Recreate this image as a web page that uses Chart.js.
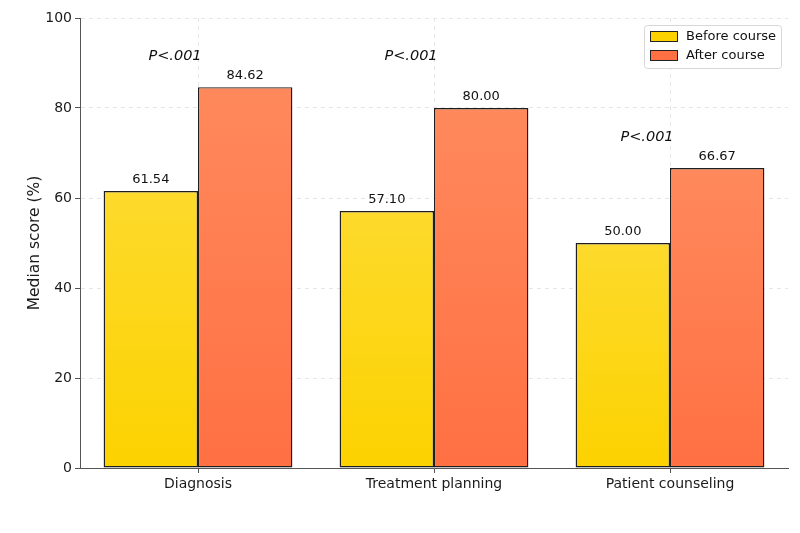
<!DOCTYPE html>
<html>
<head>
<meta charset="utf-8">
<script src="https://cdn.jsdelivr.net/npm/chart.js@4"></script>
<style>
  html, body { margin: 0; padding: 0; background: #fff; }
  #wrap { width: 800px; height: 533px; }
</style>
</head>
<body>
<div id="wrap"><canvas id="scoreChart" width="800" height="533"></canvas></div>
<script>
// categories and values
const categories = ['Diagnosis', 'Treatment planning', 'Patient counseling'];
const beforeCourse = [61.54, 57.10, 50.00];
const afterCourse = [84.62, 80.00, 66.67];
const pLabels = ['P<.001', 'P<.001', 'P<.001'];
const pLabelY = [91.6, 91.6, 73.6];
const yTicks = [0, 20, 40, 60, 80, 100];

const FONT = 'DejaVu Sans';

// per-bar vertical gradient
function barGradient(top, bottom) {
    return function (context) {
        const chart = context.chart;
        const y = chart.scales.y;
        if (!y || !chart.chartArea || typeof context.raw !== 'number') return bottom;
        const yTop = y.getPixelForValue(context.raw);
        const yBase = y.getPixelForValue(0);
        if (!isFinite(yTop) || !isFinite(yBase) || yTop === yBase) return bottom;
        const g = chart.ctx.createLinearGradient(0, yTop, 0, yBase);
        g.addColorStop(0, top);
        g.addColorStop(1, bottom);
        return g;
    };
}

// value labels, P labels and legend
const annotations = {
    id: 'annotations',
    afterDatasetsDraw(chart) {
        const ctx = chart.ctx;
        const y = chart.scales.y;
        const x = chart.scales.x;
        ctx.save();
        ctx.fillStyle = '#111';
        ctx.font = '13px "' + FONT + '"';
        ctx.textAlign = 'center';
        ctx.textBaseline = 'bottom';
        chart.data.datasets.forEach((ds, i) => {
            const meta = chart.getDatasetMeta(i);
            meta.data.forEach((bar, j) => {
                ctx.fillText(ds.data[j].toFixed(2), bar.x, bar.y - 5);
            });
        });
        // P values
        ctx.font = 'italic 14.5px "' + FONT + '"';
        ctx.textBaseline = 'middle';
        pLabels.forEach((t, j) => {
            ctx.fillText(t, x.getPixelForValue(j) - 23, y.getPixelForValue(pLabelY[j]));
        });
        // legend box
        const lx = 644, ly = 25, lw = 137, lh = 43;
        ctx.fillStyle = 'rgba(255,255,255,0.85)';
        ctx.strokeStyle = '#d6d6d6';
        ctx.lineWidth = 1;
        ctx.beginPath();
        ctx.roundRect(lx + 0.5, ly + 0.5, lw, lh, 3);
        ctx.fill();
        ctx.stroke();
        const items = [['Before course', '#FCD200'], ['After course', '#FF7043']];
        ctx.font = '13px "' + FONT + '"';
        ctx.textAlign = 'left';
        items.forEach((it, k) => {
            const iy = ly + 6 + k * 19;
            ctx.fillStyle = it[1];
            ctx.fillRect(lx + 6, iy, 27, 10);
            ctx.strokeStyle = '#222';
            ctx.strokeRect(lx + 6.5, iy + 0.5, 27, 10);
            ctx.fillStyle = '#111';
            ctx.fillText(it[0], lx + 42, iy + 6);
        });
        ctx.restore();
    }
};

const ctx = document.getElementById('scoreChart').getContext('2d');
new Chart(ctx, {
    type: 'bar',
    data: {
        labels: categories,
        datasets: [{
            label: 'Before course',
            data: beforeCourse,
            backgroundColor: barGradient('#FDDA2C', '#FCD200'),
            borderColor: '#1e1e1e',
            borderWidth: 1.4,
            borderSkipped: false,
            categoryPercentage: 0.8,
            barPercentage: 1.0
        }, {
            label: 'After course',
            data: afterCourse,
            backgroundColor: barGradient('#FF895C', '#FF7043'),
            borderColor: '#1e1e1e',
            borderWidth: 1.4,
            borderSkipped: false,
            categoryPercentage: 0.8,
            barPercentage: 1.0
        }]
    },
    options: {
        responsive: false,
        animation: false,
        layout: { padding: { left: 0, right: 12, top: 18, bottom: 0 } },
        plugins: {
            legend: { display: false },
            tooltip: { enabled: false }
        },
        scales: {
            x: {
                grid: {
                    offset: false,
                    color: '#e6e6e6',
                    tickColor: '#555',
                    tickLength: 5
                },
                border: { color: '#555', dash: [4, 4] },
                ticks: {
                    color: '#1a1a1a',
                    font: { family: FONT, size: 14 },
                    padding: 3
                },
                afterFit(scale) { scale.height = 65; }
            },
            y: {
                min: 0,
                max: 100,
                afterBuildTicks(scale) { scale.ticks = yTicks.map(v => ({ value: v })); },
                grid: {
                    color: '#e6e6e6',
                    tickColor: '#555',
                    tickLength: 5
                },
                border: { color: '#555', dash: [4, 4] },
                ticks: {
                    color: '#1a1a1a',
                    font: { family: FONT, size: 14 },
                    padding: 3
                },
                title: {
                    display: true,
                    text: 'Median score (%)',
                    color: '#1a1a1a',
                    font: { family: FONT, size: 15.5 },
                    padding: { top: 26, bottom: 0 }
                },
                afterFit(scale) { scale.width = 80; }
            }
        }
    },
    plugins: [annotations]
});
</script>
</body>
</html>
